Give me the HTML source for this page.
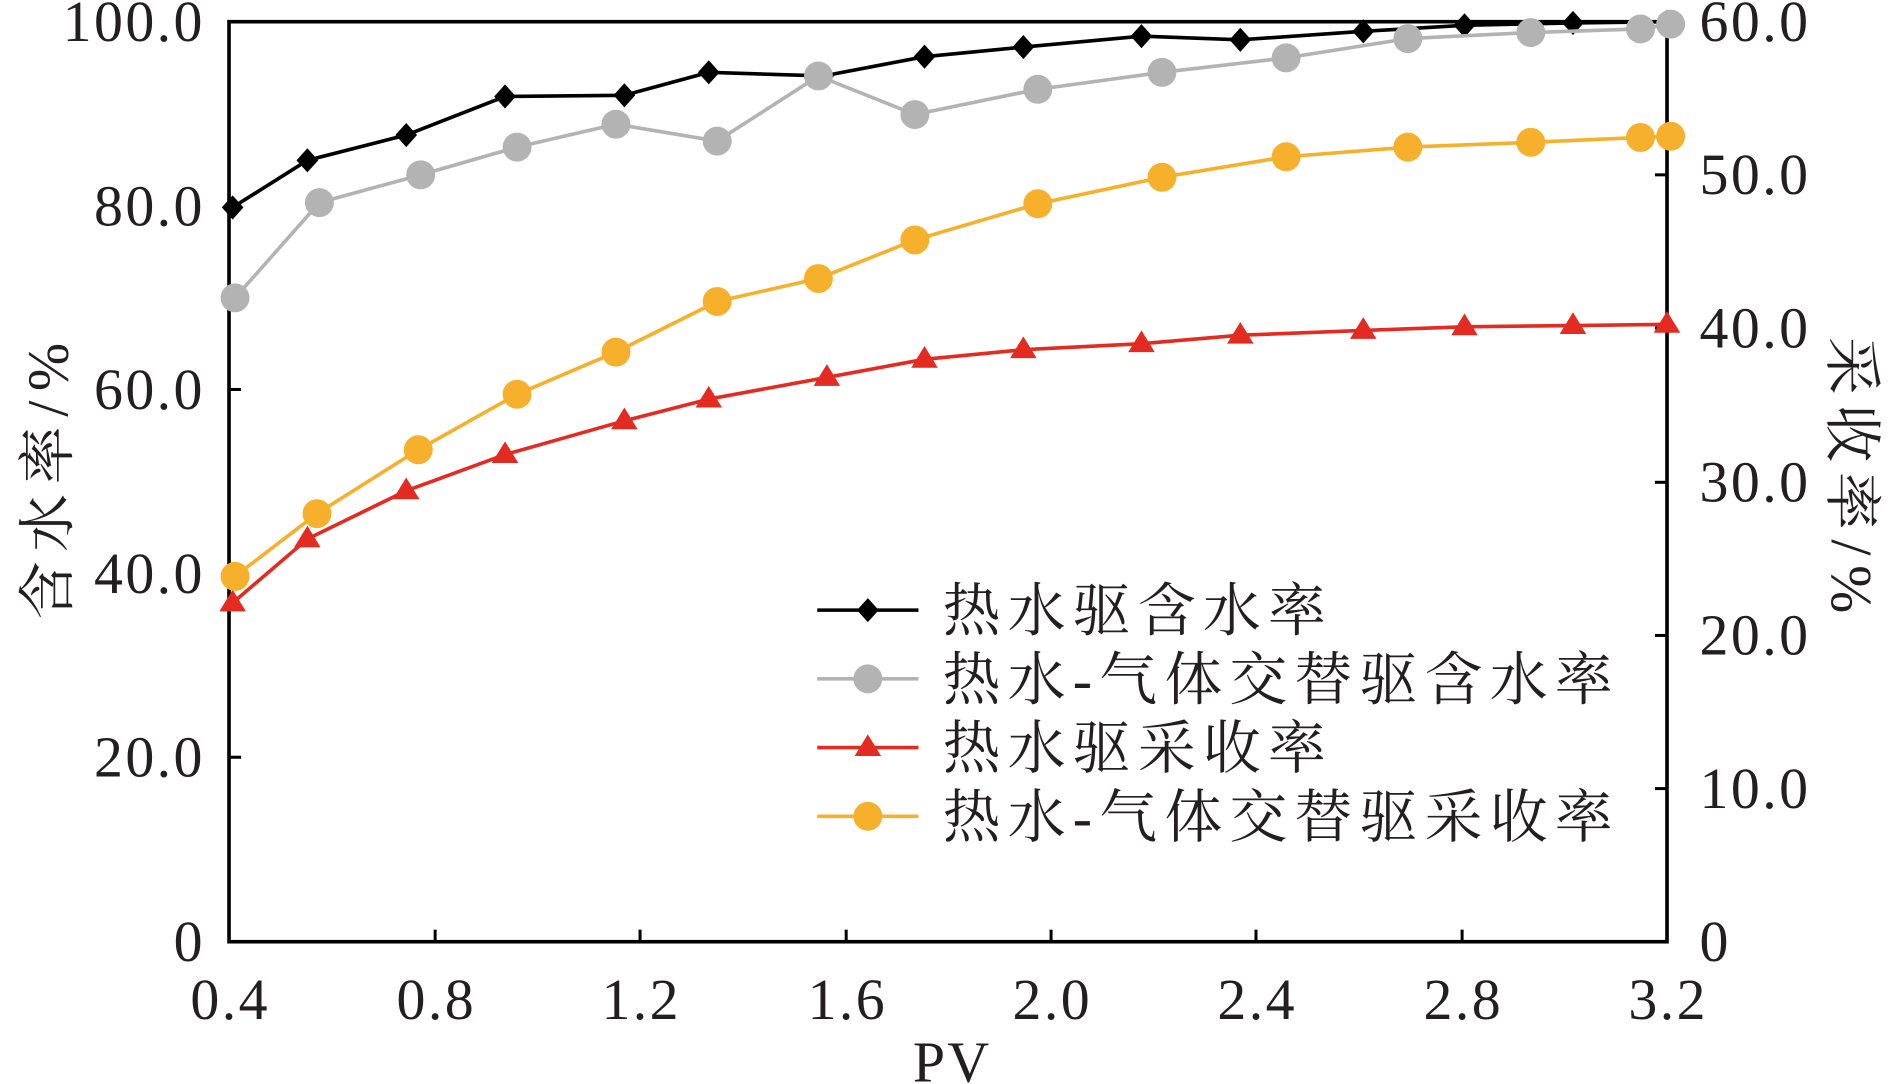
<!DOCTYPE html>
<html><head><meta charset="utf-8"><style>
html,body{margin:0;padding:0;background:#fff;}
svg{display:block;}
text{font-family:"Liberation Serif","Noto Serif CJK SC",serif;fill:#231f20;}
</style></head><body>
<svg width="1890" height="1084" viewBox="0 0 1568 899" preserveAspectRatio="none" xmlns="http://www.w3.org/2000/svg">
<rect x="190" y="18" width="1193" height="763" fill="none" stroke="#000" stroke-width="3"/>
<g stroke="#000" stroke-width="2.5">
<line x1="361" y1="781" x2="361" y2="771"/><line x1="531" y1="781" x2="531" y2="771"/><line x1="702" y1="781" x2="702" y2="771"/><line x1="872" y1="781" x2="872" y2="771"/><line x1="1042" y1="781" x2="1042" y2="771"/><line x1="1213" y1="781" x2="1213" y2="771"/>
<line x1="190" y1="628" x2="200" y2="628"/><line x1="190" y1="476" x2="200" y2="476"/><line x1="190" y1="323" x2="200" y2="323"/><line x1="190" y1="171" x2="200" y2="171"/>
<line x1="1383" y1="654" x2="1373" y2="654"/><line x1="1383" y1="527" x2="1373" y2="527"/><line x1="1383" y1="400" x2="1373" y2="400"/><line x1="1383" y1="272" x2="1373" y2="272"/><line x1="1383" y1="145" x2="1373" y2="145"/>
</g>
<g font-size="48" letter-spacing="2" text-anchor="end">
<text x="170" y="797">0</text><text x="170" y="644">20.0</text><text x="170" y="492">40.0</text><text x="170" y="339">60.0</text><text x="170" y="187">80.0</text><text x="170" y="34">100.0</text>
</g>
<g font-size="48" letter-spacing="2">
<text x="1410" y="797">0</text><text x="1410" y="670">10.0</text><text x="1410" y="543">20.0</text><text x="1410" y="416">30.0</text><text x="1410" y="288">40.0</text><text x="1410" y="161">50.0</text><text x="1410" y="34">60.0</text>
</g>
<g font-size="48" letter-spacing="2" text-anchor="middle">
<text x="191" y="845">0.4</text><text x="362" y="845">0.8</text><text x="532" y="845">1.2</text><text x="703" y="845">1.6</text><text x="873" y="845">2.0</text><text x="1043" y="845">2.4</text><text x="1214" y="845">2.8</text><text x="1384" y="845">3.2</text>
<text x="790" y="897">PV</text>
</g>
<text font-size="48" letter-spacing="8" text-anchor="middle" transform="translate(56,395) rotate(-90)">含水率/%</text>
<text font-size="48" letter-spacing="8" text-anchor="middle" transform="translate(1520,398) rotate(90)">采收率/%</text>

<polyline fill="none" stroke="#000" stroke-width="3" points="193,172 255,133 337,112 419,80 518,79 588,60 683,63 767,47 849,39 947,30 1029,33 1131,26 1215,21 1305,19 1383,18"/>
<g fill="#000">
<path d="M193,162 l9,10 -9,10 -9,-10z"/><path d="M255,123 l9,10 -9,10 -9,-10z"/><path d="M337,102 l9,10 -9,10 -9,-10z"/><path d="M419,70 l9,10 -9,10 -9,-10z"/><path d="M518,69 l9,10 -9,10 -9,-10z"/><path d="M588,50 l9,10 -9,10 -9,-10z"/><path d="M683,53 l9,10 -9,10 -9,-10z"/><path d="M767,37 l9,10 -9,10 -9,-10z"/><path d="M849,29 l9,10 -9,10 -9,-10z"/><path d="M947,20 l9,10 -9,10 -9,-10z"/><path d="M1029,23 l9,10 -9,10 -9,-10z"/><path d="M1131,16 l9,10 -9,10 -9,-10z"/><path d="M1215,11 l9,10 -9,10 -9,-10z"/><path d="M1305,9 l9,10 -9,10 -9,-10z"/><path d="M1383,8 l9,10 -9,10 -9,-10z"/>
</g>

<polyline fill="none" stroke="#b3b3b3" stroke-width="3" points="195,247 265,168 349,145 429,122 511,103 595,117 679,63 759,95 861,74 964,60 1067,48 1168,32 1270,27 1361,24 1386,20"/>
<g fill="#b3b3b3">
<circle cx="195" cy="247" r="12"/><circle cx="265" cy="168" r="12"/><circle cx="349" cy="145" r="12"/><circle cx="429" cy="122" r="12"/><circle cx="511" cy="103" r="12"/><circle cx="595" cy="117" r="12"/><circle cx="679" cy="63" r="12"/><circle cx="759" cy="95" r="12"/><circle cx="861" cy="74" r="12"/><circle cx="964" cy="60" r="12"/><circle cx="1067" cy="48" r="12"/><circle cx="1168" cy="32" r="12"/><circle cx="1270" cy="27" r="12"/><circle cx="1361" cy="24" r="12"/><circle cx="1386" cy="20" r="12"/>
</g>

<polyline fill="none" stroke="#e32b22" stroke-width="3" points="193,500 255,447 337,407 419,377 518,349 588,331 686,313 767,298 849,290 947,285 1029,278 1131,274 1215,271 1305,270 1383,269"/>
<g fill="#e32b22">
<path d="M193,489 l11,18 h-22z"/><path d="M255,436 l11,18 h-22z"/><path d="M337,396 l11,18 h-22z"/><path d="M419,366 l11,18 h-22z"/><path d="M518,338 l11,18 h-22z"/><path d="M588,320 l11,18 h-22z"/><path d="M686,302 l11,18 h-22z"/><path d="M767,287 l11,18 h-22z"/><path d="M849,279 l11,18 h-22z"/><path d="M947,274 l11,18 h-22z"/><path d="M1029,267 l11,18 h-22z"/><path d="M1131,263 l11,18 h-22z"/><path d="M1215,260 l11,18 h-22z"/><path d="M1305,259 l11,18 h-22z"/><path d="M1383,258 l11,18 h-22z"/>
</g>

<polyline fill="none" stroke="#f6b02c" stroke-width="3" points="195,478 263,426 347,373 429,327 511,292 595,250 679,231 759,199 861,169 964,147 1067,130 1168,122 1270,118 1361,114 1386,113"/>
<g fill="#f6b02c">
<circle cx="195" cy="478" r="12"/><circle cx="263" cy="426" r="12"/><circle cx="347" cy="373" r="12"/><circle cx="429" cy="327" r="12"/><circle cx="511" cy="292" r="12"/><circle cx="595" cy="250" r="12"/><circle cx="679" cy="231" r="12"/><circle cx="759" cy="199" r="12"/><circle cx="861" cy="169" r="12"/><circle cx="964" cy="147" r="12"/><circle cx="1067" cy="130" r="12"/><circle cx="1168" cy="122" r="12"/><circle cx="1270" cy="118" r="12"/><circle cx="1361" cy="114" r="12"/><circle cx="1386" cy="113" r="12"/>
</g>

<!-- legend -->
<line x1="678" y1="506" x2="762" y2="506" stroke="#000" stroke-width="3"/><path d="M720,496 l9,10 -9,10 -9,-10z" fill="#000"/>
<line x1="678" y1="563" x2="762" y2="563" stroke="#b3b3b3" stroke-width="3"/><circle cx="720" cy="563" r="12" fill="#b3b3b3"/>
<line x1="678" y1="620" x2="762" y2="620" stroke="#e32b22" stroke-width="3"/><path d="M720,609 l11,18 h-22z" fill="#e32b22"/>
<line x1="678" y1="677" x2="762" y2="677" stroke="#f6b02c" stroke-width="3"/><circle cx="720" cy="677" r="12" fill="#f6b02c"/>
<g font-size="48" letter-spacing="6">
<text x="782" y="523">热水驱含水率</text>
<text x="782" y="580">热水-气体交替驱含水率</text>
<text x="782" y="637">热水驱采收率</text>
<text x="782" y="694">热水-气体交替驱采收率</text>
</g>
</svg>
</body></html>
